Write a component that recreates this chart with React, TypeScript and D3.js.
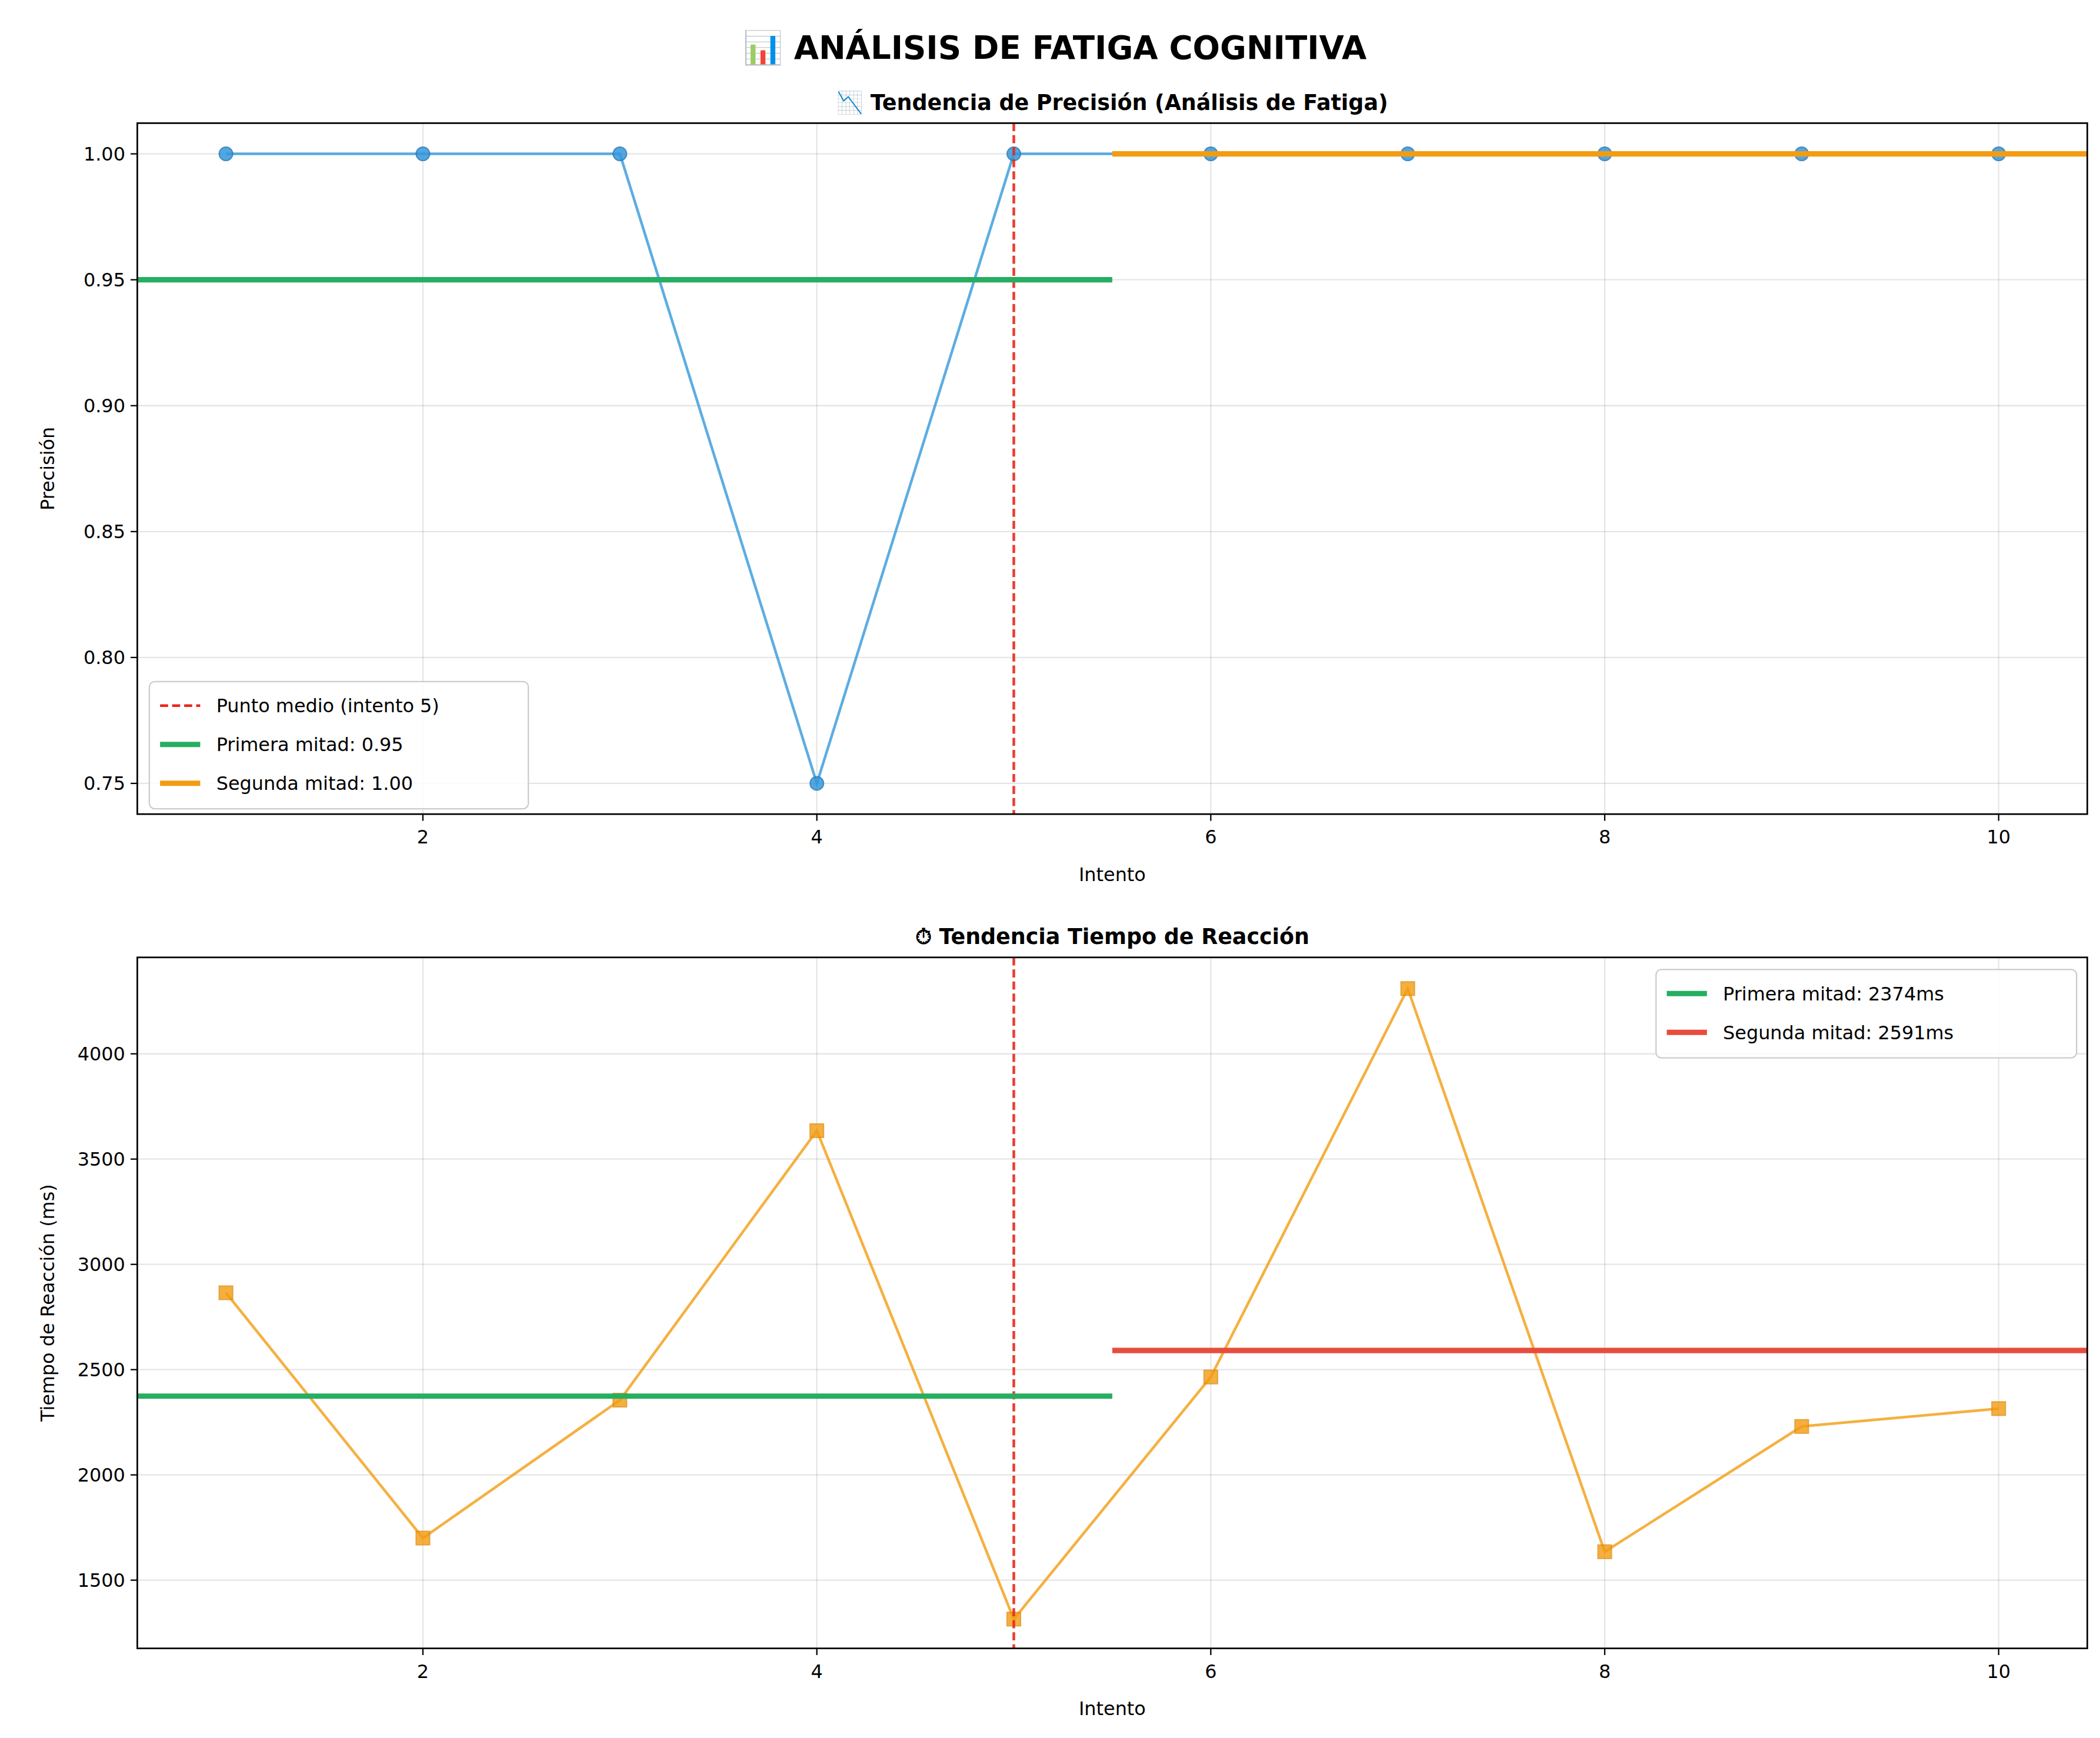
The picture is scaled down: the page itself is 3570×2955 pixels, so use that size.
import * as d3 from "d3";

const attempts = [1, 2, 3, 4, 5, 6, 7, 8, 9, 10];
const accuracy = [1, 1, 1, 0.75, 1, 1, 1, 1, 1, 1];
const reaction = [2865, 1700, 2355, 3635, 1315, 2465, 4310, 1635, 2230, 2315];
const accTicks = [0.75, 0.8, 0.85, 0.9, 0.95, 1.0];
const rtTicks = [1500, 2000, 2500, 3000, 3500, 4000];
const xTicks = [2, 4, 6, 8, 10];

const W = 1568, H = 1297;
const F = "DejaVu Sans, sans-serif";
const mean = (a: number[]) => d3.mean(a) as number;

function Panel(props: any) {
  const { top, bottom, yDomain, yTicks, values, color, marker, title, ylabel, fmt, legend, means } = props;
  const left = 99, right = 1555;
  const x = d3.scaleLinear().domain([0.55, 10.45]).range([left, right]);
  const y = d3.scaleLinear().domain(yDomain).range([bottom, top]);
  const line = d3.line<number>().x((_, i) => x(attempts[i])).y((v) => y(v));
  return (
    <g fontFamily={F}>
      {xTicks.map((t) => <line key={"gx" + t} x1={x(t)} x2={x(t)} y1={top} y2={bottom} stroke="#000" strokeOpacity={0.1} />)}
      {yTicks.map((t: number) => <line key={"gy" + t} x1={left} x2={right} y1={y(t)} y2={y(t)} stroke="#000" strokeOpacity={0.1} />)}
      <path d={line(values) as string} fill="none" stroke={color} strokeWidth={2} opacity={0.8} />
      {values.map((v: number, i: number) => marker === "circle"
        ? <circle key={i} cx={x(attempts[i])} cy={y(v)} r={5} fill={color} opacity={0.85} stroke="#2a7ab8" />
        : <rect key={i} x={x(attempts[i]) - 5} y={y(v) - 5} width={10} height={10} fill={color} opacity={0.8} stroke="#e08e0b" />)}
      <line x1={x(5)} x2={x(5)} y1={top} y2={bottom} stroke="#e8281c" strokeWidth={2} strokeDasharray="6,3" opacity={0.9} />
      <line x1={x(0.55)} x2={x(5.5)} y1={y(means[0])} y2={y(means[0])} stroke="#27ae60" strokeWidth={4} />
      <line x1={x(5.5)} x2={x(10.45)} y1={y(means[1])} y2={y(means[1])} stroke={means[2]} strokeWidth={4} />
      <rect x={left} y={top} width={right - left} height={bottom - top} fill="none" stroke="#000" strokeWidth={1.2} />
      {xTicks.map((t) => <g key={"tx" + t}>
        <line x1={x(t)} x2={x(t)} y1={bottom} y2={bottom + 5} stroke="#000" />
        <text x={x(t)} y={bottom + 22} fontSize={14} textAnchor="middle">{t}</text>
      </g>)}
      {yTicks.map((t: number) => <g key={"ty" + t}>
        <line x1={left - 5} x2={left} y1={y(t)} y2={y(t)} stroke="#000" />
        <text x={left - 9} y={y(t) + 5} fontSize={14} textAnchor="end">{fmt(t)}</text>
      </g>)}
      <text x={(left + right) / 2} y={bottom + 50} fontSize={14} textAnchor="middle">Intento</text>
      <text transform={`translate(${left - 62},${(top + bottom) / 2}) rotate(-90)`} fontSize={14} textAnchor="middle">{ylabel}</text>
      <text x={(left + right) / 2} y={top - 10} fontSize={16} fontWeight="bold" textAnchor="middle">{title}</text>
      {legend}
    </g>
  );
}

function LegendBox({ x0, y0, w, items }: any) {
  return (
    <g>
      <rect x={x0} y={y0} width={w} height={items.length * 29 + 8} rx={4} fill="#fff" fillOpacity={0.85} stroke="#ccc" />
      {items.map((it: any, i: number) => {
        const yy = y0 + 18 + i * 29;
        return <g key={i}>
          <line x1={x0 + 8} x2={x0 + 38} y1={yy} y2={yy} stroke={it.color} strokeWidth={it.dash ? 2 : 4} strokeDasharray={it.dash ? "6,3" : undefined} />
          <text x={x0 + 50} y={yy + 5} fontSize={14}>{it.label}</text>
        </g>;
      })}
    </g>
  );
}

export default function App() {
  const a1 = mean(accuracy.slice(0, 5)), a2 = mean(accuracy.slice(5));
  const r1 = mean(reaction.slice(0, 5)), r2 = mean(reaction.slice(5));
  return (
    <svg width={3570} height={2955} viewBox={`0 0 ${W} ${H}`} style={{ display: "block" }}>
      <rect width={W} height={H} fill="#fff" />
      <text x={W / 2} y={40} fontFamily={F} fontSize={24} fontWeight="bold" textAnchor="middle">📊 ANÁLISIS DE FATIGA COGNITIVA</text>
      <Panel top={88} bottom={604} yDomain={[0.7378, 1.0122]} yTicks={accTicks} values={accuracy} color="#3498db" marker="circle"
        title="📉 Tendencia de Precisión (Análisis de Fatiga)" ylabel="Precisión" fmt={d3.format(".2f")}
        means={[a1, a2, "#f39c12"]}
        legend={<LegendBox x0={108} y0={505} w={283} items={[
          { color: "#e8281c", dash: true, label: "Punto medio (intento 5)" },
          { color: "#27ae60", label: `Primera mitad: ${a1.toFixed(2)}` },
          { color: "#f39c12", label: `Segunda mitad: ${a2.toFixed(2)}` },
        ]} />} />
      <Panel top={711} bottom={1227} yDomain={[1176, 4458]} yTicks={rtTicks} values={reaction} color="#f39c12" marker="square"
        title="⏱ Tendencia Tiempo de Reacción" ylabel="Tiempo de Reacción (ms)" fmt={d3.format("d")}
        means={[r1, r2, "#e74c3c"]}
        legend={<LegendBox x0={1233} y0={720} w={314} items={[
          { color: "#27ae60", label: `Primera mitad: ${Math.round(r1)}ms` },
          { color: "#e74c3c", label: `Segunda mitad: ${Math.round(r2)}ms` },
        ]} />} />
    </svg>
  );
}
